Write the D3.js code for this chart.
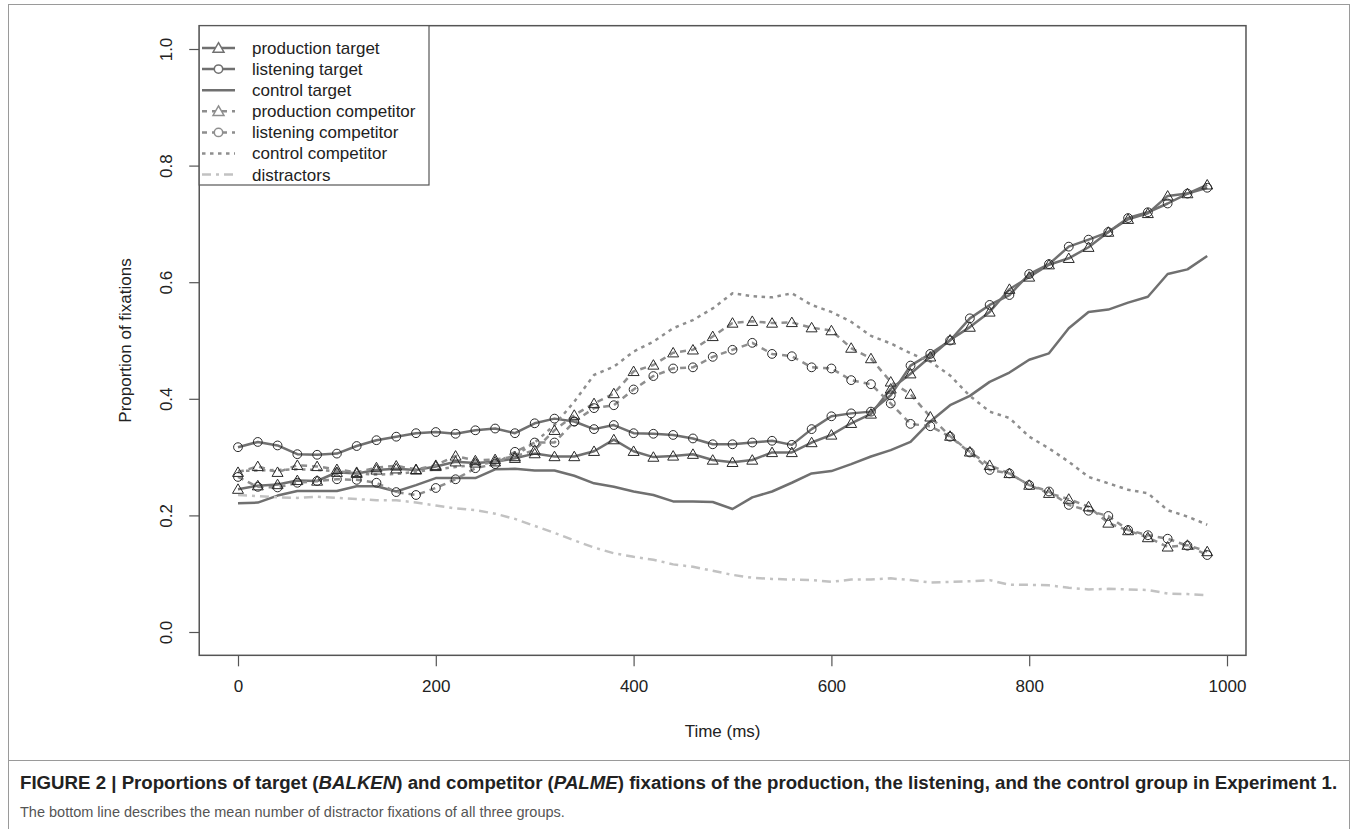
<!DOCTYPE html>
<html><head><meta charset="utf-8">
<script src="https://cdn.jsdelivr.net/npm/d3@7"></script>
<style>body{margin:0;background:#fff}svg text{font-family:"Liberation Sans",Arial,sans-serif}</style>
</head><body><svg id="c" width="1358" height="829"></svg>
<script>
const times = [0,20,40,60,80,100,120,140,160,180,200,220,240,260,280,300,320,340,360,380,400,420,440,460,480,500,520,540,560,580,600,620,640,660,680,700,720,740,760,780,800,820,840,860,880,900,920,940,960,980];
const prodTarget = [.245,.251,.253,.260,.259,.274,.272,.278,.280,.278,.284,.292,.290,.292,.298,.306,.301,.301,.310,.330,.310,.300,.302,.305,.295,.291,.295,.308,.308,.325,.338,.358,.374,.417,.443,.472,.501,.523,.549,.588,.609,.630,.641,.660,.686,.708,.718,.748,.752,.767];
const listTarget = [.317,.326,.320,.305,.304,.306,.319,.329,.335,.341,.343,.340,.346,.349,.341,.358,.366,.361,.348,.355,.341,.340,.338,.332,.322,.322,.325,.328,.321,.348,.370,.375,.378,.406,.457,.477,.500,.538,.561,.578,.614,.631,.661,.673,.686,.710,.720,.735,.752,.762];
const ctrlTarget = [.221,.222,.234,.242,.242,.242,.250,.250,.241,.252,.264,.264,.264,.279,.280,.277,.277,.268,.255,.249,.241,.235,.224,.224,.223,.211,.231,.241,.256,.272,.276,.288,.301,.312,.326,.361,.389,.405,.429,.445,.467,.478,.521,.549,.553,.565,.575,.614,.622,.645];
const prodComp = [.274,.284,.274,.286,.284,.279,.274,.282,.285,.279,.286,.302,.294,.296,.301,.312,.346,.372,.392,.409,.447,.458,.479,.484,.507,.530,.533,.530,.531,.522,.517,.487,.469,.429,.408,.369,.336,.309,.286,.272,.252,.238,.228,.215,.187,.174,.162,.146,.149,.138];
const listComp = [.266,.249,.248,.256,.259,.262,.261,.256,.240,.235,.247,.262,.281,.288,.309,.325,.325,.361,.384,.389,.416,.439,.452,.454,.472,.484,.496,.477,.473,.454,.452,.432,.425,.392,.357,.353,.335,.308,.278,.272,.252,.241,.218,.208,.199,.175,.166,.160,.148,.132];
const ctrlComp = [.276,.277,.278,.279,.278,.276,.272,.270,.271,.275,.279,.283,.287,.291,.302,.325,.355,.395,.441,.455,.481,.498,.521,.535,.555,.581,.576,.574,.581,.561,.549,.532,.508,.495,.478,.464,.440,.405,.378,.367,.335,.315,.292,.266,.255,.244,.238,.209,.198,.184];
const distract = [.235,.233,.231,.230,.232,.230,.228,.226,.226,.222,.217,.212,.209,.203,.194,.182,.170,.157,.145,.135,.129,.124,.116,.112,.105,.098,.093,.091,.090,.089,.086,.090,.090,.092,.089,.085,.086,.087,.089,.081,.081,.080,.076,.073,.074,.073,.072,.066,.065,.063];
const seriesNames = ["production target","listening target","control target","production competitor","listening competitor","control competitor","distractors"];
const xTicks = [0,200,400,600,800,1000];
const yTicks = [0,0.2,0.4,0.6,0.8,1.0];

const styles = [
  {data:prodTarget, color:"#707070", dash:null, marker:"tri"},
  {data:listTarget, color:"#707070", dash:null, marker:"circ"},
  {data:ctrlTarget, color:"#707070", dash:null, marker:null},
  {data:prodComp, color:"#8e8e8e", dash:"6,5", marker:"tri"},
  {data:listComp, color:"#8e8e8e", dash:"6,5", marker:"circ"},
  {data:ctrlComp, color:"#8e8e8e", dash:"3.5,4.5", marker:null},
  {data:distract, color:"#c2c2c2", dash:"9,5,3,5", marker:null}
];

const svg = d3.select("#c");
const x = d3.scaleLinear().domain([0,1000]).range([238,1227]);
const y = d3.scaleLinear().domain([0,1]).range([632,49]);
const bx0 = x(-0.04*980), bx1 = x(980*1.04), by0 = y(1.04), by1 = y(-0.04);

// figure frame
svg.append("rect").attr("x",8.5).attr("y",4.5).attr("width",1341).attr("height",830).attr("fill","none").attr("stroke","#9a9a9a").attr("stroke-width",1);
svg.append("line").attr("x1",8).attr("x2",1350).attr("y1",760.5).attr("y2",760.5).attr("stroke","#9a9a9a");

// axes
const xa = svg.append("g").attr("transform",`translate(0,${by1})`).call(d3.axisBottom(x).tickValues(xTicks).tickSize(11).tickPadding(14).tickFormat(d3.format("d")));
xa.select(".domain").remove();
xa.selectAll("line").attr("stroke","#555").attr("stroke-width",1.2);
xa.selectAll("text").attr("font-size",17).attr("fill","#222").attr("font-family","Liberation Sans, Arial");
const ya = svg.append("g").attr("transform",`translate(${bx0},0)`).call(d3.axisLeft(y).tickValues(yTicks).tickSize(10).tickFormat(d3.format(".1f")));
ya.select(".domain").remove();
ya.selectAll("line").attr("stroke","#555").attr("stroke-width",1.2);
ya.selectAll("text").attr("font-size",17).attr("fill","#222").attr("font-family","Liberation Sans, Arial")
  .attr("x",0).attr("dy",null).attr("text-anchor","middle")
  .attr("transform",function(d){return `translate(${166-bx0},0) rotate(-90)`;}).attr("dy","0.35em");
ya.selectAll(".tick text").attr("transform",null).each(function(){});
ya.selectAll(".tick").each(function(d){
  const t = d3.select(this).select("text");
  t.attr("transform",`translate(${166-bx0+6},0) rotate(-90)`).attr("x",0).attr("y",0).attr("dy",0);
});

svg.append("text").attr("x",(bx0+bx1)/2).attr("y",737).attr("text-anchor","middle").attr("font-size",17).attr("fill","#222").text("Time (ms)");
svg.append("text").attr("transform",`translate(131,${(by0+by1)/2}) rotate(-90)`).attr("text-anchor","middle").attr("font-size",17).attr("fill","#222").text("Proportion of fixations");

// series
const plot = svg.append("g");
const line = d3.line().x((d,i)=>x(times[i])).y(d=>y(d));
styles.forEach(s=>{
  plot.append("path").datum(s.data).attr("d",line).attr("fill","none").attr("stroke",s.color).attr("stroke-width",2.5)
    .attr("stroke-dasharray",s.dash).attr("stroke-linejoin","round");
});
const triPath = d3.symbol(d3.symbolTriangle, 52)();
styles.forEach(s=>{
  if(!s.marker) return;
  const g = plot.append("g");
  if(s.marker==="tri"){
    g.selectAll("path").data(s.data).join("path").attr("d",triPath)
     .attr("transform",(d,i)=>`translate(${x(times[i])},${y(d)+1})`).attr("fill","none").attr("stroke","#2a2a2a").attr("stroke-width",1);
  } else {
    g.selectAll("circle").data(s.data).join("circle").attr("cx",(d,i)=>x(times[i])).attr("cy",d=>y(d)).attr("r",4.4)
     .attr("fill","none").attr("stroke","#2a2a2a").attr("stroke-width",1);
  }
});

// box
svg.append("rect").attr("x",bx0).attr("y",by0).attr("width",bx1-bx0).attr("height",by1-by0).attr("fill","none").attr("stroke","#555").attr("stroke-width",1.5);

// legend
const lg = svg.append("g");
lg.append("rect").attr("x",bx0).attr("y",by0).attr("width",429-bx0).attr("height",185-by0).attr("fill","#fff").attr("stroke","#555").attr("stroke-width",1.2);
seriesNames.forEach((n,i)=>{
  const s = styles[i];
  const yy = 48 + i*21.1;
  lg.append("line").attr("x1",202).attr("x2",235).attr("y1",yy).attr("y2",yy).attr("stroke",s.color).attr("stroke-width",2.5).attr("stroke-dasharray",s.dash?(i===3||i===4?"5,5":s.dash):null);
  if(s.marker==="tri"){
    lg.append("path").attr("d",triPath).attr("transform",`translate(218.5,${yy+1})`).attr("fill","#fff").attr("stroke",s.color).attr("stroke-width",1.5);
  } else if(s.marker==="circ"){
    lg.append("circle").attr("cx",218.5).attr("cy",yy).attr("r",4.2).attr("fill","#fff").attr("stroke",s.color).attr("stroke-width",1.5);
  }
  lg.append("text").attr("x",252).attr("y",yy).attr("dy","0.35em").attr("font-size",17).attr("fill","#222").text(n);
});

// caption
const cap = svg.append("text").attr("x",20).attr("y",789).attr("font-size",16).attr("font-weight","bold").attr("fill","#222");
[["FIGURE 2 | Proportions of target (",false],["BALKEN",true],[") and competitor (",false],["PALME",true],[") fixations of the production, the listening, and the control group in Experiment 1.",false]]
 .forEach(([t,it])=>cap.append("tspan").attr("font-style",it?"italic":null).text(t));
const w1 = cap.node().getComputedTextLength();
cap.attr("font-size",16*1318/w1);
const cap2 = svg.append("text").attr("x",20).attr("y",817).attr("font-size",15).attr("fill","#555").text("The bottom line describes the mean number of distractor fixations of all three groups.");
const w2 = cap2.node().getComputedTextLength();
cap2.attr("font-size",15*545/w2);
</script></body></html>
